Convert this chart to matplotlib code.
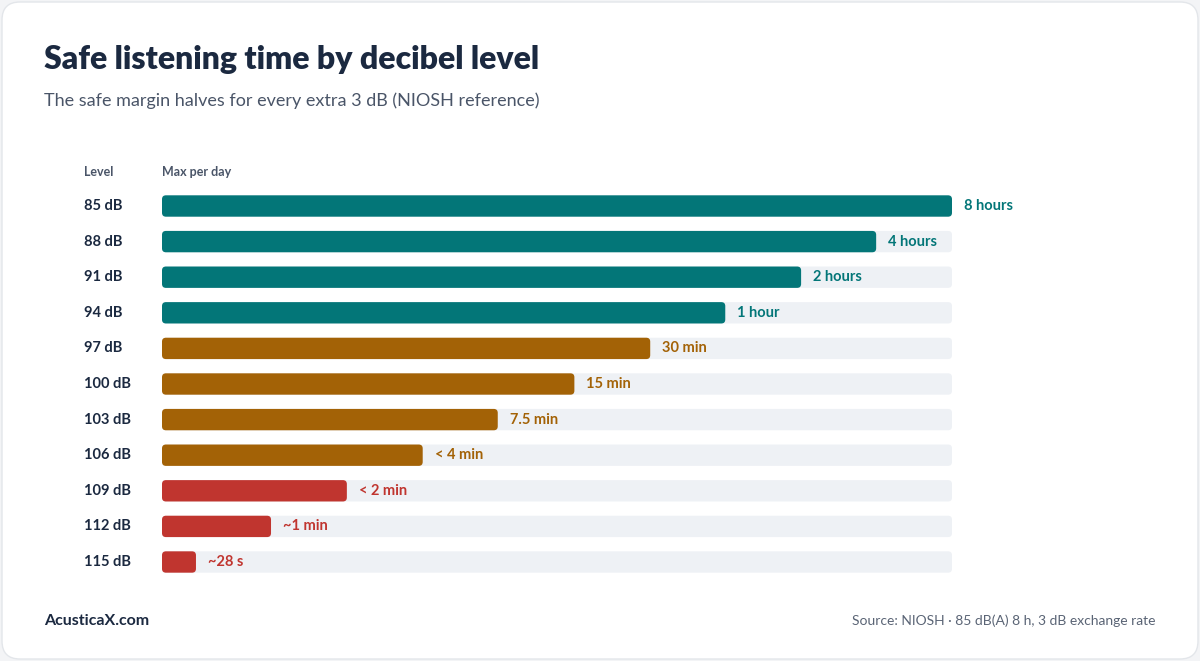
import matplotlib
matplotlib.use("Agg")
import matplotlib.pyplot as plt
from matplotlib.patches import FancyBboxPatch

levels = ["85 dB","88 dB","91 dB","94 dB","97 dB","100 dB","103 dB","106 dB","109 dB","112 dB","115 dB"]
bar_len = [100, 90.4, 80.9, 71.3, 61.8, 52.2, 42.5, 33.0, 23.4, 13.8, 4.3]
labels = ["8 hours","4 hours","2 hours","1 hour","30 min","15 min","7.5 min","< 4 min","< 2 min","~1 min","~28 s"]
groups = ["safe"]*4 + ["warn"]*4 + ["danger"]*3
colors = {"safe":"#037678","warn":"#a36206","danger":"#c0352f"}

FONT = ["Lato","DejaVu Sans"]
W, H = 1200, 661
fig = plt.figure(figsize=(12, 6.61), dpi=100, facecolor="#f3f4f6")
bg = fig.add_axes([0,0,1,1]); bg.set_xlim(0,W); bg.set_ylim(H,0); bg.axis("off")
bg.add_patch(FancyBboxPatch((2,2),W-4,H-4,boxstyle="round,pad=0,rounding_size=18",fc="white",ec="#e3e6ea",lw=1))

dark = "#1b2940"
fig.text(44/W, 1-60/H, "Safe listening time by decibel level", fontsize=23, fontweight="heavy", color=dark, family=FONT, va="center")
fig.text(44/W, 1-101/H, "The safe margin halves for every extra 3 dB (NIOSH reference)", fontsize=13, color="#4a5568", family=FONT, va="center")
fig.text(84/W, 1-172/H, "Level", fontsize=9, fontweight="bold", color="#4a5568", family=FONT, va="center")
fig.text(162/W, 1-172/H, "Max per day", fontsize=9, fontweight="bold", color="#4a5568", family=FONT, va="center")
fig.text(44/W, 1-621/H, "AcusticaX.com", fontsize=11.5, fontweight="bold", color=dark, family=FONT, va="center")
fig.text(1156/W, 1-621/H, "Source: NIOSH · 85 dB(A) 8 h, 3 dB exchange rate", fontsize=10, color="#5a6475", family=FONT, va="center", ha="right")

top, bot = 188.2, 579.8
ax = fig.add_axes([162/W, 1-bot/H, 790/W, (bot-top)/H])
ax.set_xlim(0,100); ax.set_ylim(len(levels)-0.5,-0.5); ax.axis("off")
h = 0.6
asp = (790/100)/((bot-top)/len(levels))
for i,(lv,v,lab,g) in enumerate(zip(levels,bar_len,labels,groups)):
    c = colors[g]
    ax.add_patch(FancyBboxPatch((0,i-h/2),100,h,boxstyle="round,pad=0,rounding_size=0.5",mutation_aspect=asp,fc="#eef1f5",ec="none"))
    ax.add_patch(FancyBboxPatch((0,i-h/2),v,h,boxstyle="round,pad=0,rounding_size=0.5",mutation_aspect=asp,fc=c,ec="none"))
    ax.text(v+1.5, i, lab, color=c, fontsize=10.5, fontweight="bold", family=FONT, va="center", ha="left")
    ax.text(-9.9, i, lv, color=dark, fontsize=10.5, fontweight="bold", family=FONT, va="center", ha="left")

fig.savefig("out.png", dpi=100, facecolor=fig.get_facecolor())
